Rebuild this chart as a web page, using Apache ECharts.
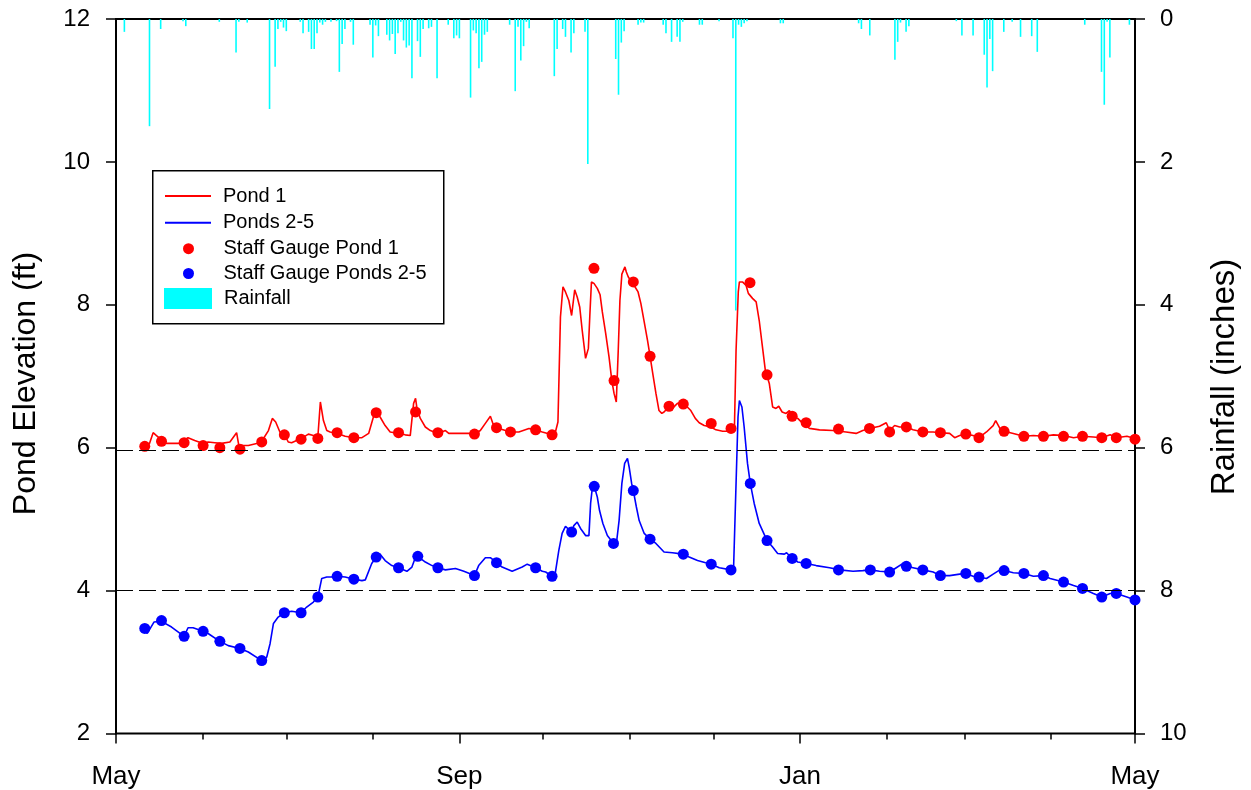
<!DOCTYPE html>
<html>
<head>
<meta charset="utf-8">
<script src="https://cdn.jsdelivr.net/npm/echarts@6/dist/echarts.min.js"></script>
<style>
html,body{margin:0;padding:0;background:#fff;}
#chart{width:1251px;height:790px;}
</style>
</head>
<body>
<div id="chart"></div>
<script>
// x values: days since May 1
const monthTickDays = [31, 61, 92, 153, 184, 214, 276, 304, 335];
const majorTickDays = [0, 123, 245, 365];
const majorTickLabels = ['May', 'Sep', 'Jan', 'May'];
const refLevels = [5.97, 4.01];

const pond1Line = [[9,6.01],[12,6.06],[13.3,6.21],[14.5,6.17],[15.7,6.13],[18,6.06],[23,6.06],[25.8,6.14],[28.2,6.10],[31.2,6.06],[33,6.08],[35.4,6.07],[37.8,6.06],[40.8,6.08],[43.2,6.21],[44,6.03],[47.4,6.03],[50.4,6.06],[52.2,6.09],[54.6,6.24],[56,6.41],[57.2,6.36],[58.7,6.22],[60.3,6.19],[61.7,6.08],[62.9,6.07],[64.7,6.10],[66.5,6.13],[68.9,6.19],[70.7,6.17],[72.3,6.15],[73.2,6.64],[74.3,6.38],[75.5,6.24],[76.7,6.22],[79.2,6.20],[82.1,6.16],[85.2,6.14],[88.1,6.14],[90.5,6.20],[92.2,6.43],[93.2,6.49],[94.6,6.43],[96.4,6.31],[98.2,6.22],[101.2,6.20],[103.6,6.18],[105.4,6.17],[106.6,6.62],[107.3,6.69],[107.8,6.55],[109,6.41],[110.8,6.29],[112.6,6.24],[115.3,6.20],[118,6.24],[119.2,6.20],[121.6,6.20],[126.3,6.20],[128.4,6.19],[130.5,6.24],[132.3,6.34],[134.1,6.44],[135,6.34],[136.3,6.28],[139.5,6.24],[141.3,6.22],[144.3,6.22],[147.9,6.27],[150.3,6.25],[152.7,6.22],[156.2,6.18],[157.4,6.22],[158.3,6.36],[159.2,7.83],[160.1,8.25],[161,8.18],[162.2,8.06],[163.2,7.85],[164.3,8.21],[165.2,8.11],[166.1,7.97],[167,7.64],[168.2,7.25],[169.2,7.39],[169.7,7.83],[170.3,8.32],[171.2,8.30],[172.4,8.23],[173.4,8.14],[174.2,7.90],[175.4,7.60],[176.6,7.27],[177.6,6.94],[178.4,6.76],[179.2,6.64],[179.9,7.36],[180.5,8.06],[181.2,8.43],[182.3,8.53],[182.8,8.46],[183.5,8.39],[185.6,8.27],[187,8.18],[188,8.02],[189.2,7.76],[190.4,7.50],[191.3,7.28],[192.1,7.08],[193.4,6.76],[194.5,6.52],[195.5,6.48],[196.3,6.50],[197.5,6.55],[199.3,6.55],[201.1,6.62],[202.9,6.62],[204.1,6.59],[205.9,6.52],[207.5,6.41],[208.9,6.35],[210.7,6.31],[213.1,6.29],[214.9,6.25],[217.3,6.23],[220.3,6.23],[221.5,6.24],[222.1,7.36],[222.9,8.18],[223.3,8.32],[224.4,8.32],[225.7,8.27],[226.5,8.16],[228,8.09],[229.3,8.04],[230.4,7.78],[231.4,7.46],[232.6,7.08],[234,6.90],[235.2,6.57],[236.4,6.55],[237.4,6.58],[238.6,6.50],[240,6.48],[241.2,6.52],[242.4,6.44],[244.2,6.41],[246,6.34],[248.4,6.27],[252,6.25],[256.8,6.24],[261.5,6.22],[265.1,6.20],[267.5,6.24],[269.9,6.27],[273.5,6.30],[275.9,6.35],[277.1,6.24],[278.9,6.31],[280.7,6.29],[283.1,6.29],[285.5,6.25],[289,6.22],[292.7,6.22],[295.3,6.21],[298.6,6.20],[300.4,6.14],[302.2,6.17],[304.4,6.19],[307,6.17],[309.1,6.14],[311.8,6.22],[314.2,6.31],[315.1,6.38],[316.6,6.27],[318.1,6.23],[321.4,6.20],[325.2,6.16],[328.6,6.17],[332.2,6.16],[335.8,6.18],[339.4,6.17],[343,6.14],[346.2,6.16],[350.1,6.15],[353.1,6.14],[356.1,6.18],[358.3,6.14],[362.1,6.16],[365,6.13]];

const ponds25Line = [[9.1,3.48],[11.2,3.40],[13.6,3.56],[16.3,3.57],[19.9,3.49],[24.4,3.36],[25.8,3.48],[27.6,3.48],[31.2,3.43],[33,3.40],[37.2,3.29],[40.2,3.23],[44.4,3.19],[47.4,3.14],[52.2,3.02],[54,3.07],[55.2,3.26],[56.4,3.54],[58.1,3.63],[60.3,3.69],[62.9,3.71],[66.3,3.69],[68.3,3.77],[70.7,3.84],[72.3,3.91],[73.7,4.17],[75.5,4.19],[77.3,4.19],[79.2,4.20],[82.1,4.19],[85.2,4.16],[88.1,4.14],[89.3,4.15],[91.6,4.38],[93.2,4.47],[94.6,4.51],[96.4,4.42],[98.8,4.35],[101.2,4.32],[104.2,4.27],[106,4.33],[107.2,4.46],[108.1,4.48],[110.8,4.40],[113.2,4.35],[115.3,4.32],[118,4.29],[121.6,4.31],[124.6,4.27],[128.4,4.21],[129.9,4.35],[132.3,4.46],[133,4.44],[134.1,4.46],[136.3,4.39],[138.3,4.33],[141.9,4.27],[145.5,4.33],[147.3,4.37],[150.3,4.32],[152.7,4.27],[153.9,4.26],[156.2,4.20],[157.4,4.26],[158.6,4.56],[159.8,4.80],[161,4.90],[163.2,4.82],[164,4.91],[165.2,4.96],[166.4,4.87],[168.2,4.77],[169.4,4.77],[170,5.22],[170.6,5.43],[171.3,5.46],[172.4,5.31],[173.2,5.12],[174.4,4.94],[176,4.77],[178.2,4.66],[179.3,4.68],[180.2,4.98],[181.2,5.50],[182.2,5.78],[183.2,5.85],[183.8,5.73],[184.7,5.50],[185.3,5.40],[186.4,5.17],[187.4,4.98],[189.2,4.80],[191.3,4.72],[193.4,4.66],[196.3,4.54],[199.3,4.53],[203.2,4.51],[205.3,4.47],[208.3,4.42],[211.2,4.39],[213.2,4.37],[216.1,4.32],[220.3,4.29],[221.2,4.30],[222.1,5.50],[222.8,6.43],[223.3,6.66],[224.2,6.57],[225,6.29],[226.2,5.78],[227.2,5.50],[228.6,5.22],[230.4,4.94],[233.2,4.70],[235.2,4.61],[237,4.52],[239.4,4.51],[240.2,4.53],[242.2,4.45],[244.2,4.40],[247.2,4.38],[250.8,4.35],[255.6,4.32],[259.2,4.29],[264,4.27],[267.5,4.28],[270.2,4.29],[273.5,4.27],[277.1,4.26],[279.5,4.32],[281.9,4.38],[283.1,4.34],[285.5,4.32],[289,4.29],[292.7,4.26],[295.3,4.21],[298.6,4.21],[302.2,4.23],[304.4,4.24],[307,4.20],[309.1,4.19],[311.8,4.17],[314.2,4.23],[316.6,4.29],[318.1,4.28],[321.4,4.25],[325.2,4.24],[328.6,4.20],[332.2,4.21],[334.6,4.17],[339.4,4.12],[343,4.07],[346.2,4.03],[350.1,3.96],[353.1,3.91],[356.1,3.96],[358.3,3.96],[362.1,3.91],[365,3.87]];

const gaugePond1 = [[10.3,6.02],[16.3,6.09],[24.4,6.07],[31.2,6.03],[37.2,6.00],[44.4,5.98],[52.2,6.08],[60.3,6.18],[66.3,6.12],[72.3,6.13],[79.2,6.21],[85.2,6.14],[93.2,6.49],[101.2,6.21],[107.3,6.50],[115.3,6.21],[128.4,6.19],[136.3,6.28],[141.3,6.22],[150.3,6.25],[156.2,6.18],[171.2,8.51],[178.4,6.94],[185.3,8.32],[191.3,7.28],[198.1,6.58],[203.2,6.61],[213.2,6.34],[220.3,6.27],[227.1,8.31],[233.2,7.02],[242.2,6.44],[247.2,6.35],[258.8,6.26],[269.9,6.27],[277.1,6.22],[283.1,6.29],[289,6.22],[295.3,6.21],[304.4,6.19],[309.1,6.14],[318.1,6.23],[325.2,6.16],[332.2,6.16],[339.4,6.16],[346.2,6.16],[353.1,6.14],[358.3,6.14],[365,6.12]];

const gaugePonds25 = [[10.3,3.47],[16.3,3.58],[24.4,3.36],[31.2,3.43],[37.2,3.29],[44.4,3.19],[52.2,3.02],[60.3,3.69],[66.3,3.69],[72.3,3.91],[79.2,4.20],[85.2,4.16],[93.2,4.47],[101.2,4.32],[108.1,4.48],[115.3,4.32],[128.4,4.21],[136.3,4.39],[150.3,4.32],[156.2,4.20],[163.2,4.82],[171.3,5.46],[178.2,4.66],[185.3,5.40],[191.3,4.72],[203.2,4.51],[213.2,4.37],[220.3,4.29],[227.2,5.50],[233.2,4.70],[242.2,4.45],[247.2,4.38],[258.8,4.29],[270.2,4.29],[277.1,4.26],[283.1,4.34],[289,4.29],[295.3,4.21],[304.4,4.24],[309.1,4.19],[318.1,4.28],[325.2,4.24],[332.2,4.21],[339.4,4.12],[346.2,4.03],[353.1,3.91],[358.3,3.96],[365,3.87]];

const rainDays = [3,12,16,24,25,37,43,44,47,55,57,58,59,60,61,66,67,69,70,71,72,73,74,75,77,79,80,81,82,84,85,91,92,93,94,97,98,99,100,101,102,103,104,105,106,108,109,110,112,113,115,119,121,122,123,127,128,129,130,131,132,133,141,143,144,145,146,147,148,157,158,160,161,163,164,168,169,179,180,181,182,187,188,189,196,197,199,201,202,203,209,210,216,221,222,223,224,225,226,238,239,266,267,270,279,280,281,283,284,301,303,307,311,312,313,314,318,321,324,328,330,347,353,354,355,356,363];
const rainInches = [0.18,1.50,0.14,0.03,0.10,0.04,0.47,0.04,0.05,1.26,0.67,0.14,0.04,0.12,0.17,0.04,0.20,0.18,0.42,0.42,0.20,0.05,0.08,0.04,0.04,0.03,0.74,0.35,0.14,0.04,0.36,0.08,0.54,0.09,0.24,0.22,0.30,0.21,0.49,0.20,0.04,0.30,0.40,0.37,0.83,0.31,0.53,0.14,0.13,0.11,0.83,0.08,0.27,0.23,0.27,1.10,0.16,0.20,0.69,0.60,0.22,0.18,0.08,1.01,0.11,0.58,0.38,0.04,0.13,0.80,0.42,0.14,0.25,0.47,0.20,0.18,2.03,0.56,1.06,0.33,0.17,0.08,0.05,0.05,0.08,0.20,0.32,0.25,0.32,0.04,0.08,0.08,0.03,0.27,4.08,0.08,0.11,0.06,0.03,0.06,0.06,0.06,0.14,0.23,0.57,0.32,0.05,0.18,0.10,0.03,0.23,0.23,0.50,0.96,0.28,0.73,0.18,0.04,0.25,0.24,0.46,0.08,0.74,1.20,0.04,0.54,0.08];

const FONT = '"Liberation Sans", Arial, Helvetica, sans-serif';
const rainData = rainDays.map((d, i) => [d, rainInches[i]]);

const chart = echarts.init(document.getElementById('chart'), null, {renderer: 'canvas'});
const txt = {color: '#000', fontFamily: FONT, fontSize: 20, lineHeight: 24, padding: [0, 0, 0, 7]};
const lineIcon = 'path://M0,0H46V2H0Z';
const G = {left: 116, right: 116, top: 19, bottom: 56.5};
const tickStyle = {color: '#000', width: 1.5};

chart.setOption({
  animation: false,
  backgroundColor: '#fff',
  grid: [
    Object.assign({show: true, borderColor: '#000', borderWidth: 2, backgroundColor: 'transparent'}, G),
    Object.assign({show: false}, G),
    Object.assign({show: false}, G)
  ],
  xAxis: [
    {
      type: 'value', gridIndex: 0, min: 0, max: 365, position: 'bottom',
      axisLine: {show: true, lineStyle: {color: '#000', width: 2}},
      axisTick: {show: false},
      axisLabel: {show: true, customValues: majorTickDays, margin: 30, color: '#000', fontFamily: FONT, fontSize: 26,
        formatter: v => majorTickLabels[majorTickDays.indexOf(Math.round(v))] || ''},
      splitLine: {show: false}
    },
    {
      type: 'value', gridIndex: 1, min: 0, max: 365, position: 'bottom',
      axisLine: {show: false},
      axisTick: {show: true, length: 6, lineStyle: tickStyle, customValues: monthTickDays},
      axisLabel: {show: false}, splitLine: {show: false}
    },
    {
      type: 'value', gridIndex: 2, min: 0, max: 365, position: 'bottom',
      axisLine: {show: false},
      axisTick: {show: true, length: 10, lineStyle: tickStyle, customValues: majorTickDays},
      axisLabel: {show: false}, splitLine: {show: false}
    }
  ],
  yAxis: [
    {
      type: 'value', gridIndex: 0, min: 2, max: 12, interval: 2, position: 'left',
      axisLine: {show: true, lineStyle: {color: '#000', width: 2}},
      axisTick: {show: true, length: 10, lineStyle: tickStyle},
      axisLabel: {color: '#000', fontFamily: FONT, fontSize: 24, margin: 26},
      splitLine: {show: false}
    },
    {
      type: 'value', gridIndex: 0, min: 0, max: 10, interval: 2, position: 'right', inverse: true,
      axisLine: {show: true, lineStyle: {color: '#000', width: 2}},
      axisTick: {show: true, length: 10, lineStyle: tickStyle},
      axisLabel: {color: '#000', fontFamily: FONT, fontSize: 24, margin: 25},
      splitLine: {show: false}
    },
    {type: 'value', gridIndex: 1, show: false, min: 0, max: 1},
    {type: 'value', gridIndex: 2, show: false, min: 0, max: 1}
  ],
  legend: [
    {data: [{name: 'Pond 1', icon: lineIcon}, {name: 'Ponds 2-5', icon: lineIcon}], orient: 'vertical', left: 165, top: 184, padding: 0,
      itemWidth: 46, itemHeight: 20, itemGap: 2.7, textStyle: txt, selectedMode: false},
    {data: [{name: 'Staff Gauge Pond 1', icon: 'circle'}, {name: 'Staff Gauge Ponds 2-5', icon: 'circle'}], orient: 'vertical', left: 183, top: 236.7, padding: 0,
      itemWidth: 46, itemHeight: 11, itemGap: 0.8, textStyle: txt, selectedMode: false},
    {data: [{name: 'Rainfall', icon: 'rect'}], orient: 'vertical', left: 164, top: 286.5, padding: 0,
      itemWidth: 48, itemHeight: 21, textStyle: txt, selectedMode: false}
  ],
  graphic: [
    {type: 'rect', left: 152, top: 170, shape: {width: 291, height: 153}, style: {fill: 'transparent', stroke: '#000', lineWidth: 1.5}, z: 10},
    {type: 'text', x: 26.5, y: 383.5, rotation: Math.PI / 2,
      style: {text: 'Pond Elevation (ft)', fill: '#000', font: '32px ' + FONT, align: 'center', verticalAlign: 'middle'}},
    {type: 'text', x: 1225, y: 377, rotation: Math.PI / 2,
      style: {text: 'Rainfall (inches)', fill: '#000', font: '33px ' + FONT, align: 'center', verticalAlign: 'middle'}}
  ],
  series: [
    {
      name: 'Rainfall', type: 'bar', xAxisIndex: 0, yAxisIndex: 1, data: rainData,
      barWidth: 1.6, itemStyle: {color: '#00ffff'}, z: 1
    },
    {
      name: 'Pond 1', type: 'line', xAxisIndex: 0, yAxisIndex: 0, data: pond1Line,
      symbol: 'none', lineStyle: {color: '#ff0000', width: 1.6}, itemStyle: {color: '#ff0000'}, z: 3,
      markLine: {
        silent: true, symbol: ['none', 'none'], label: {show: false},
        lineStyle: {color: '#000', type: [17, 6], width: 1.2},
        data: refLevels.map(v => ({yAxis: v}))
      }
    },
    {
      name: 'Ponds 2-5', type: 'line', xAxisIndex: 0, yAxisIndex: 0, data: ponds25Line,
      symbol: 'none', lineStyle: {color: '#0000ff', width: 1.6}, itemStyle: {color: '#0000ff'}, z: 3
    },
    {
      name: 'Staff Gauge Pond 1', type: 'scatter', xAxisIndex: 0, yAxisIndex: 0, data: gaugePond1,
      symbol: 'circle', symbolSize: 11, itemStyle: {color: '#ff0000', opacity: 1}, z: 4
    },
    {
      name: 'Staff Gauge Ponds 2-5', type: 'scatter', xAxisIndex: 0, yAxisIndex: 0, data: gaugePonds25,
      symbol: 'circle', symbolSize: 11, itemStyle: {color: '#0000ff', opacity: 1}, z: 4
    }
  ]
});
</script>
</body>
</html>
